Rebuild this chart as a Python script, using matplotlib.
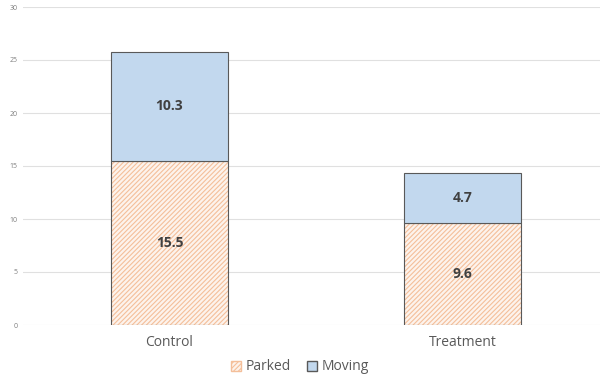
import matplotlib
matplotlib.use("Agg")
import matplotlib.pyplot as plt
from matplotlib.patches import Patch

categories = ["Control", "Treatment"]
parked = [15.5, 9.6]
moving = [10.3, 4.7]
yticks = [0, 5, 10, 15, 20, 25, 30]

plt.rcParams['font.family'] = ['Open Sans', 'DejaVu Sans']
plt.rcParams['hatch.linewidth'] = 0.8

fig = plt.figure(figsize=(6, 3.8), dpi=100)
ax = fig.add_axes([23/600, 55/380, 577/600, 318/380])

x = list(range(len(categories)))
w = 0.4
orange = "#f4bf9a"
peach = "#fdf3ec"
edge = "#595959"
blue = "#c2d8ee"

# parked: pale with orange diagonal hatch
ax.bar(x, parked, w, color=peach, edgecolor=orange, hatch="///////", linewidth=0, zorder=2)
ax.bar(x, parked, w, fill=False, edgecolor=edge, linewidth=0.8, zorder=3)
# moving
ax.bar(x, moving, w, bottom=parked, color=blue, edgecolor=edge, linewidth=0.8, zorder=3)

for i in x:
    ax.text(i, parked[i] / 2, f"{parked[i]:.1f}", ha="center", va="center",
            fontsize=10, fontweight="bold", color="#404040", zorder=4)
    ax.text(i, parked[i] + moving[i] / 2, f"{moving[i]:.1f}", ha="center", va="center",
            fontsize=10, fontweight="bold", color="#404040", zorder=4)

ax.set_xlim(-0.5, (600 - 169.5) / 293)
ax.set_ylim(0, 30)
ax.set_yticks(yticks)
ax.set_yticklabels([str(t) for t in yticks], fontsize=5, color="#7f7f7f")
ax.set_xticks(x)
ax.set_xticklabels(categories, fontsize=10, color="#595959")
ax.tick_params(axis="both", length=0)
ax.tick_params(axis="y", pad=4)
ax.tick_params(axis="x", pad=7)
ax.grid(axis="y", color="#e0e0e0", linewidth=0.8, zorder=0)
ax.set_axisbelow(True)
for s in ax.spines.values():
    s.set_visible(False)

handles = [
    Patch(facecolor=peach, edgecolor=orange, hatch="///////", label="Parked"),
    Patch(facecolor=blue, edgecolor=edge, label="Moving"),
]
leg = fig.legend(handles=handles, loc="center", bbox_to_anchor=(0.5, 13/380), ncol=2,
                 frameon=False, fontsize=10, handlelength=0.7, handleheight=0.7,
                 handletextpad=0.3, columnspacing=1.2)
for t in leg.get_texts():
    t.set_color("#595959")

fig.savefig("out.png", dpi=100)
